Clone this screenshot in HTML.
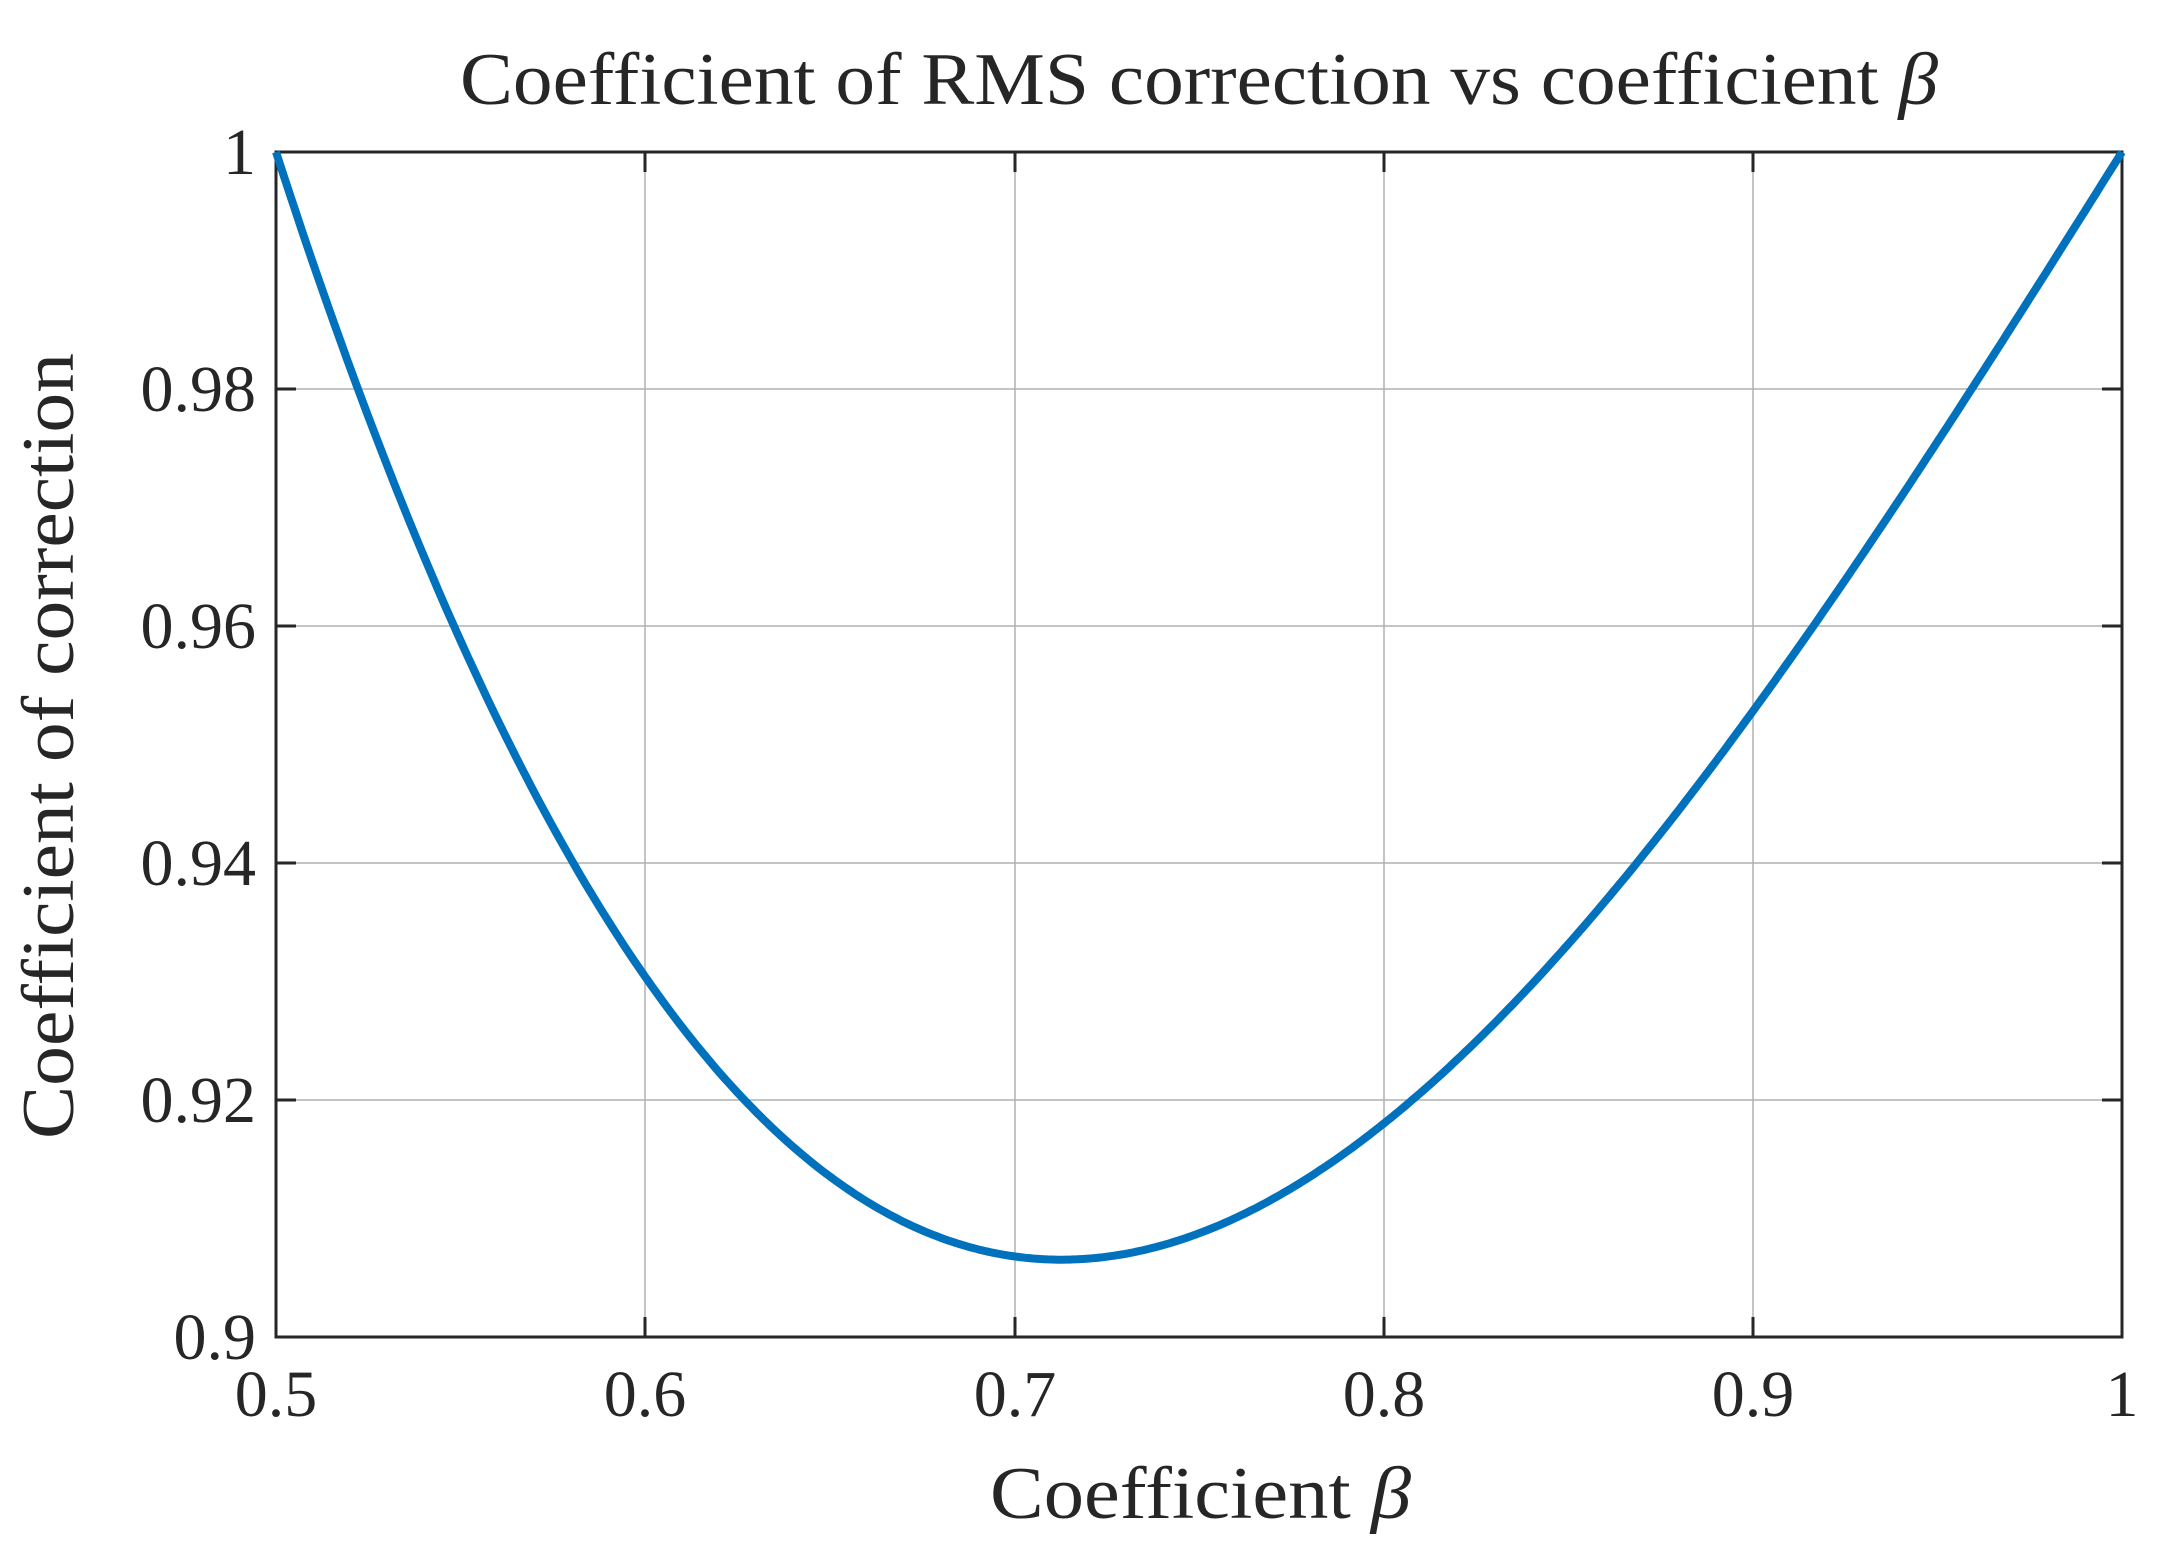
<!DOCTYPE html>
<html><head><meta charset="utf-8"><style>
html,body{margin:0;padding:0;background:#fff;}
svg{display:block;}
text{font-family:"Liberation Serif",serif;fill:#262626;}
</style></head><body>
<svg id="s" width="2173" height="1547" viewBox="0 0 2173 1547" xmlns="http://www.w3.org/2000/svg">
<rect width="2173" height="1547" fill="#fff"/>
<g stroke="#b0b0b0" stroke-width="1.5">
<line x1="645" y1="152" x2="645" y2="1337"/>
<line x1="1015" y1="152" x2="1015" y2="1337"/>
<line x1="1384" y1="152" x2="1384" y2="1337"/>
<line x1="1753" y1="152" x2="1753" y2="1337"/>
<line x1="276" y1="389" x2="2122" y2="389"/>
<line x1="276" y1="626" x2="2122" y2="626"/>
<line x1="276" y1="863" x2="2122" y2="863"/>
<line x1="276" y1="1100" x2="2122" y2="1100"/>
</g>
<g stroke="#262626" stroke-width="3" fill="none">
<rect x="276" y="152" width="1846" height="1185"/>
<path d="M645 1337v-20M1015 1337v-20M1384 1337v-20M1753 1337v-20M645 152v20M1015 152v20M1384 152v20M1753 152v20M276 389h20M276 626h20M276 863h20M276 1100h20M2122 389h-20M2122 626h-20M2122 863h-20M2122 1100h-20"/>
</g>
<path id="c" fill="none" stroke="#0072BD" stroke-width="8" stroke-linejoin="round"/>
<g font-size="66" text-anchor="end">
<text x="256" y="174">1</text>
<text x="256" y="411">0.98</text>
<text x="256" y="648">0.96</text>
<text x="256" y="885">0.94</text>
<text x="256" y="1122">0.92</text>
<text x="256" y="1359">0.9</text>
</g>
<g font-size="66" text-anchor="middle">
<text x="276" y="1416">0.5</text>
<text x="645" y="1416">0.6</text>
<text x="1015" y="1416">0.7</text>
<text x="1384" y="1416">0.8</text>
<text x="1753" y="1416">0.9</text>
<text x="2122" y="1416">1</text>
</g>
<text x="460" y="104" font-size="74" textLength="1478" lengthAdjust="spacingAndGlyphs" fill="#000">Coefficient of RMS correction vs coefficient <tspan font-style="italic">β</tspan></text>
<text x="990" y="1518" font-size="74" textLength="421" lengthAdjust="spacingAndGlyphs" fill="#000">Coefficient <tspan font-style="italic">β</tspan></text>
<text transform="translate(73,1139) rotate(-90)" font-size="74" textLength="786" lengthAdjust="spacingAndGlyphs" fill="#000">Coefficient of correction</text>
</svg>
<script>
function f(t){var s=(t-0.5)/0.1;return 1+s*(-0.0698)+s*(s-1)/2*0.046+s*(s-1)*(s-2)/6*(-0.0112)+0.001*(t-0.5)/0.5;}
var s="";for(var k=0;k<=500;k++){var t=0.5+k/1000;var px=276+(t-0.5)*3692,py=152+(1-f(t))*11850;s+=(k?"L":"M")+px.toFixed(1)+" "+py.toFixed(1);}
document.getElementById("c").setAttribute("d",s);
</script>
</body></html>
